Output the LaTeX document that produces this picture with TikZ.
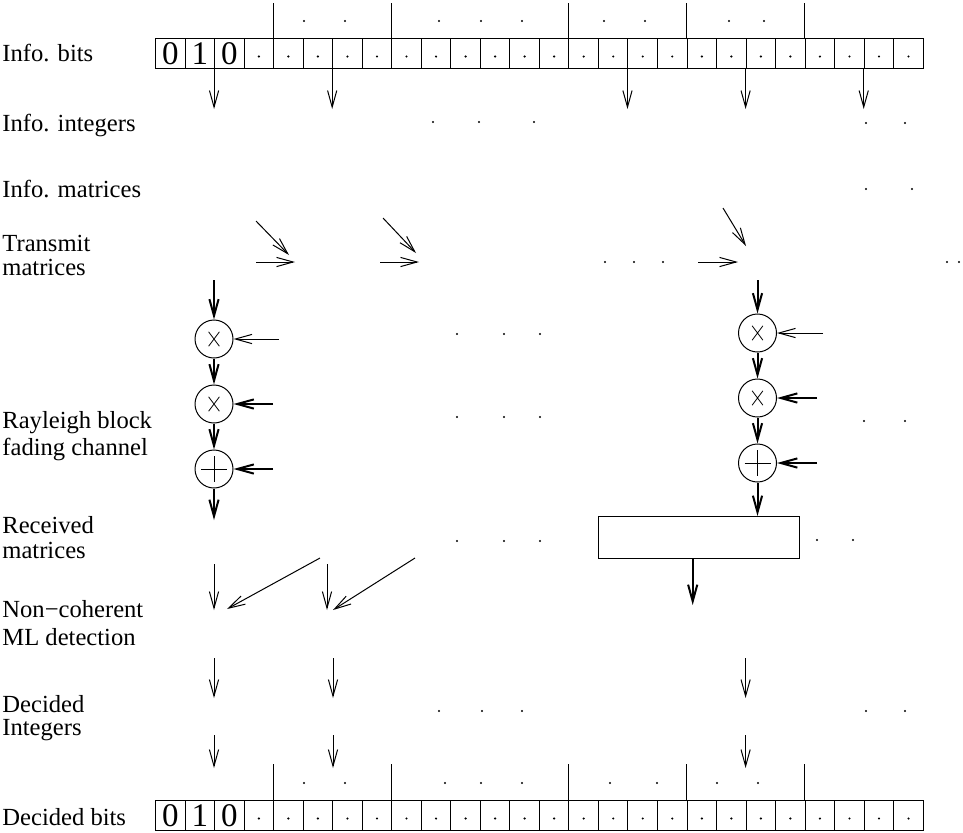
\documentclass[tikz,border=0pt]{standalone}
\usepackage{fontspec}
\setmainfont{Liberation Serif}
\usetikzlibrary{arrows.meta,positioning}

\begin{document}
\begin{tikzpicture}[
        x=0.5pt, y=-0.5pt,
        lbl/.style={anchor=base west, inner sep=0pt, align=left, font=\fontsize{12.3}{12}\selectfont},
        cell/.style={draw, line width=0.5pt, minimum width=14.77pt, minimum height=15pt, inner sep=0pt, anchor=north west, font=\fontsize{16.5}{16.5}\selectfont},
        sepline/.style={line width=0.5pt},
        pdot/.style={circle, fill, inner sep=0pt, minimum size=1.2pt},
        arr/.style={-{Straight Barb[length=8.3pt,width=4.6pt]}, line width=0.5pt},
        tarr/.style={arr, line width=1pt},
        op/.style={circle, draw, line width=0.5pt, minimum size=19pt, inner sep=0pt},
        mulop/.style={op, path picture={
            \draw[line width=0.4pt] ([shift={(-2.7pt,3.6pt)}]path picture bounding box.center) -- ++(5.4pt,-7.2pt)
                                    ([shift={(2.7pt,3.6pt)}]path picture bounding box.center) -- ++(-5.4pt,-7.2pt);}},
        sumop/.style={op, path picture={
            \draw[line width=0.4pt] ([xshift=-6.5pt]path picture bounding box.center) -- ++(13pt,0pt)
                                    ([yshift=6.5pt]path picture bounding box.center) -- ++(0pt,-13pt);}},
        rxbox/.style={draw, line width=0.5pt, minimum width=100.5pt, minimum height=21pt, inner sep=0pt, anchor=north west}
    ]
    \useasboundingbox (0,0) rectangle (963,832);

    % row labels (base = last line)
    \node[lbl] (l1) at (2,61.5) {Info. bits};
    \node[lbl] (l2) at (2,131) {Info. integers};
    \node[lbl] (l3) at (2,197) {Info. matrices};
    \node[lbl] (l4) at (2,275) {Transmit\\matrices};
    \node[lbl] (l5) at (2,455) {Rayleigh block\\[1.5pt]fading channel};
    \node[lbl] (l6) at (2,558) {Received\\[0.5pt]matrices};
    \node[lbl] (l7) at (2,645) {Non−coherent\\[2pt]ML detection};
    \node[lbl] (l8) at (2,735) {Decided\\[-0.5pt]Integers};
    \node[lbl] (l9) at (2,825.5) {Decided bits};

    % bit rows
    \foreach \r/\y in {ib/38,db/800}{
        \foreach \k/\b in {0/0,1/1,2/0}
            \node[cell] (\r\k) at (155+29.53*\k,\y) {\b};
        \foreach \k in {3,...,25}{
            \node[cell] (\r\k) at (155+29.53*\k,\y) {};
            \node[pdot] (\r-dot\k) at ([yshift=-1.5pt]\r\k.center) {};
        }
    }
    \foreach \k in {4,8,14,18,22}{
        \draw[sepline] (ib\k.north west) -- ++(0,-35);
        \draw[sepline] (db\k.north west) -- ++(0,-36);
    }
    \foreach \k in {2,6,16,20,24}{
        \coordinate (ia\k) at ([yshift=-20pt]ib\k.south west);
        \draw[arr] (ib\k.south west) -- (ia\k);
    }

    % dots
    \foreach \x/\y [count=\i] in {304/21,345/21,439/21,481/21,522/21,604/21,645/21,729/21,764/21,
            433/122,479/122,534/122,866/123,905/123, 866/189,912/189,
            605/262,634/262,663/262,947/262,959/262,
            457/334,504/334,540/334, 457/417,504/417,540/417,864/421,905/421,
            457/541,504/541,540/541,817/540,853/540,
            439/711,482/711,522/711,866/711,905/711,
            304/783,345/783,445/783,481/783,522/783,610/783,657/783,717/783,758/783}
        \node[pdot] (d\i) at (\x,\y) {};

    % transmit matrices
    \coordinate (ta1) at (256,221); \coordinate (tb1) at (289,255);
    \coordinate (ta2) at (256,262); \coordinate (tb2) at (295,262);
    \coordinate (ta3) at (383,218); \coordinate (tb3) at (416,253);
    \coordinate (ta4) at (380,262); \coordinate (tb4) at (419,262);
    \coordinate (ta5) at (698,262); \coordinate (tb5) at (738,262);
    \coordinate (ta6) at (723,208); \coordinate (tb6) at (746,246);
    \foreach \i in {1,...,6}
        \draw[arr] (ta\i) -- (tb\i);

    % channel, first block
    \node[mulop] (mA1) at (214,339) {};
    \node[mulop] (mA2) at (214,404) {};
    \node[sumop] (sA) at (214,469) {};
    \coordinate (inA) at (214,280);
    \coordinate (outA) at (214,520);
    \coordinate (gA1) at (279,339);
    \coordinate (gA2) at (273,404);
    \coordinate (zA) at (273,469);
    \draw[tarr] (inA) -- (mA1);
    \draw[tarr] (mA1) -- (mA2);
    \draw[tarr] (mA2) -- (sA);
    \draw[tarr] (sA) -- (outA);
    \draw[arr] (gA1) -- (mA1);
    \draw[tarr] (gA2) -- (mA2);
    \draw[tarr] (zA) -- (sA);

    % channel, last block
    \node[mulop] (mB1) at (757.5,333) {};
    \node[mulop] (mB2) at (757.5,398) {};
    \node[sumop] (sB) at (757.5,463) {};
    \node[rxbox] (rx) at (598,516) {};
    \coordinate (inB) at (757.5,280);
    \coordinate (outB) at (692.7,605);
    \coordinate (gB1) at (823,333);
    \coordinate (gB2) at (817,398);
    \coordinate (zB) at (817,463);
    \draw[tarr] (inB) -- (mB1);
    \draw[tarr] (mB1) -- (mB2);
    \draw[tarr] (mB2) -- (sB);
    \draw[tarr] (sB) -- (rx.north -| sB);
    \draw[tarr] (rx.south -| outB) -- (outB);
    \draw[arr] (gB1) -- (mB1);
    \draw[tarr] (gB2) -- (mB2);
    \draw[tarr] (zB) -- (sB);

    % detection
    \coordinate (ea1) at (214,564); \coordinate (eb1) at (214,610);
    \coordinate (ea2) at (327,564); \coordinate (eb2) at (327,610);
    \coordinate (ea3) at (320,558); \coordinate (eb3) at (227,609);
    \coordinate (ea4) at (415,558); \coordinate (eb4) at (333,610);
    \foreach \i in {1,...,4}
        \draw[arr] (ea\i) -- (eb\i);

    % decided integers and bits
    \foreach \x [count=\i] in {214,333,745.6}{
        \coordinate (ka\i) at (\x,658); \coordinate (kb\i) at (\x,698);
        \coordinate (fa\i) at (\x,735); \coordinate (fb\i) at (\x,768);
        \draw[arr] (ka\i) -- (kb\i);
        \draw[arr] (fa\i) -- (fb\i);
    }
\end{tikzpicture}
\end{document}
